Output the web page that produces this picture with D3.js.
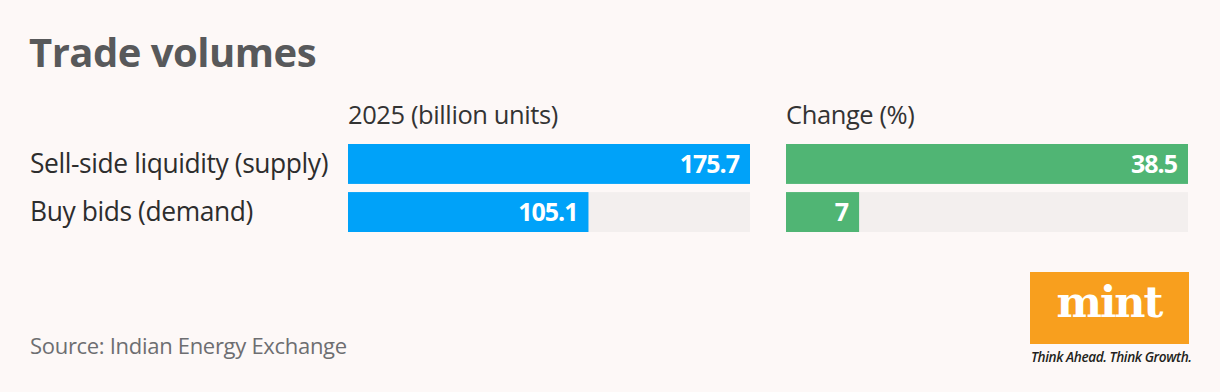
<!DOCTYPE html>
<html>
<head>
<meta charset="utf-8">
<script src="https://cdn.jsdelivr.net/npm/d3@7"></script>
<style>
  html, body { margin: 0; padding: 0; background: #fdf8f7; }
  svg { display: block; font-family: "Open Sans", sans-serif; }
</style>
</head>
<body>
<div id="chart"></div>
<script>
// Chart data
const categories = ["Sell-side liquidity (supply)", "Buy bids (demand)"];
const volumes = [175.7, 105.1];   // 2025 (billion units)
const changes = [38.5, 7];        // Change (%)
const panelTitles = ["2025 (billion units)", "Change (%)"];

const width = 1220, height = 392;

const svg = d3.select("#chart")
  .append("svg")
  .attr("width", width)
  .attr("height", height);

svg.append("rect")
  .attr("width", width)
  .attr("height", height)
  .attr("fill", "#fdf8f7");

// Title
svg.append("text")
  .attr("x", 29)
  .attr("y", 67)
  .attr("fill", "#58595b")
  .attr("font-size", 40)
  .attr("font-weight", 700)
  .attr("letter-spacing", -0.5)
  .text("Trade volumes");

// Shared row scale
const y = d3.scaleBand()
  .domain(categories)
  .range([144, 232])
  .paddingInner(0.17);

// Row labels
svg.append("g")
  .selectAll("text")
  .data(categories)
  .join("text")
  .attr("x", 30)
  .attr("y", d => y(d) + y.bandwidth() / 2)
  .attr("dy", "0.35em")
  .attr("fill", "#2d2d2d")
  .attr("font-size", 26.4)
  .attr("letter-spacing", -0.4)
  .text(d => d);

// One panel per measure
const panels = [
  { title: panelTitles[0], values: volumes, x0: 348, color: "#00a2f9", fmt: d => d.toFixed(1) },
  { title: panelTitles[1], values: changes, x0: 786, color: "#50b574", fmt: d => String(d) }
];

const panelWidth = 402;

panels.forEach(p => {
  const x = d3.scaleLinear()
    .domain([0, d3.max(p.values)])
    .range([p.x0, p.x0 + panelWidth]);

  const g = svg.append("g");

  g.append("text")
    .attr("x", p.x0)
    .attr("y", 124)
    .attr("fill", "#333")
    .attr("font-size", 25.5)
    .attr("letter-spacing", -0.4)
    .text(p.title);

  // background tracks
  g.selectAll(".track")
    .data(categories)
    .join("rect")
    .attr("class", "track")
    .attr("x", x(0))
    .attr("y", d => y(d))
    .attr("width", panelWidth)
    .attr("height", y.bandwidth())
    .attr("fill", "#f3efee");

  g.selectAll(".bar")
    .data(p.values)
    .join("rect")
    .attr("class", "bar")
    .attr("x", x(0))
    .attr("y", (d, i) => y(categories[i]))
    .attr("width", d => x(d) - x(0))
    .attr("height", y.bandwidth())
    .attr("fill", p.color);

  g.selectAll(".val")
    .data(p.values)
    .join("text")
    .attr("class", "val")
    .attr("x", d => x(d) - 11)
    .attr("y", (d, i) => y(categories[i]) + y.bandwidth() / 2)
    .attr("dy", "0.36em")
    .attr("text-anchor", "end")
    .attr("fill", "#fff")
    .attr("font-size", 25)
    .attr("font-weight", 700)
    .attr("letter-spacing", -1)
    .text(p.fmt);
});

// Source
svg.append("text")
  .attr("x", 30)
  .attr("y", 354)
  .attr("fill", "#6d6e71")
  .attr("font-size", 22)
  .attr("letter-spacing", -0.3)
  .text("Source: Indian Energy Exchange");

// mint logo
const logo = svg.append("g");
logo.append("rect")
  .attr("x", 1030)
  .attr("y", 272)
  .attr("width", 159)
  .attr("height", 72)
  .attr("fill", "#f89f1e");
logo.append("text")
  .attr("x", 1109)
  .attr("y", 317)
  .attr("text-anchor", "middle")
  .attr("fill", "#fff")
  .attr("font-family", "'DejaVu Serif', serif")
  .attr("font-size", 43)
  .attr("font-weight", 700)
  .attr("letter-spacing", -2)
  .text("mint");
logo.append("text")
  .attr("x", 1031)
  .attr("y", 362)
  .attr("fill", "#231f20")
  .attr("font-size", 13.6)
  .attr("font-style", "italic")
  .attr("font-weight", 600)
  .attr("letter-spacing", -0.4)
  .text("Think Ahead. Think Growth.");
</script>
</body>
</html>
